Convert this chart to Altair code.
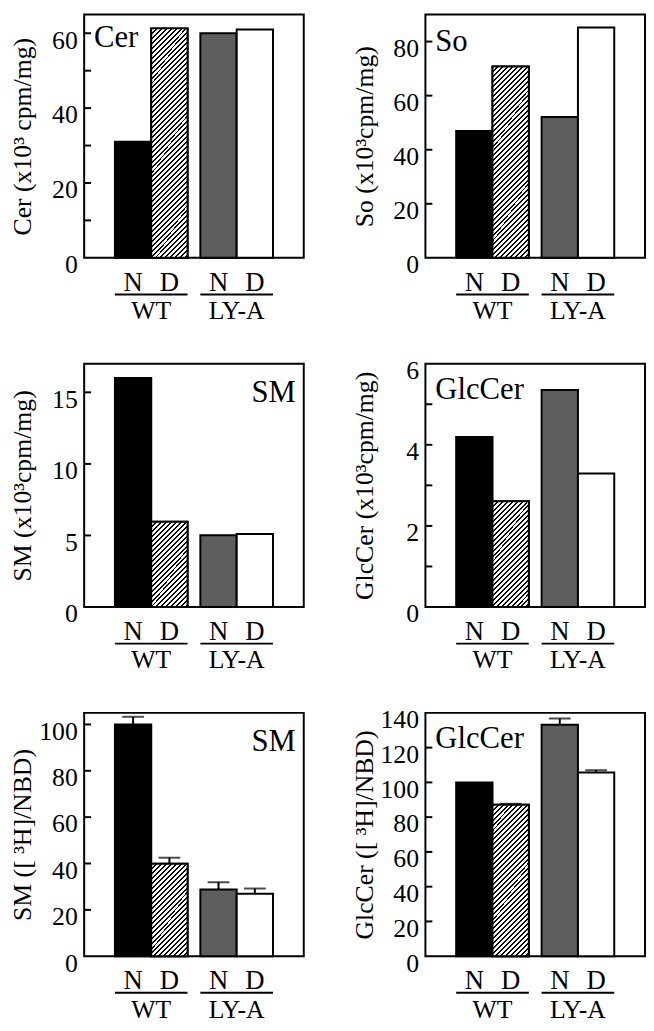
import math
import altair as alt
import pandas as pd

FONT = "Liberation Serif"

# ---------------- data ----------------
groups = ["WT", "WT", "LY-A", "LY-A"]
conds = ["N", "D", "N", "D"]

panel_names = ["Cer", "So", "SM", "GlcCer", "SM", "GlcCer"]
y_titles = [
    "Cer (x10³ cpm/mg)",
    "So (x10³cpm/mg)",
    "SM (x10³cpm/mg)",
    "GlcCer (x10³cpm/mg)",
    "SM ([ ³H]/NBD)",
    "GlcCer ([ ³H]/NBD)",
]
cer_values = [31.0, 61.3, 60.0, 61.0]
so_values = [46.9, 70.8, 52.1, 85.2]
sm_values = [16.0, 5.96, 5.01, 5.10]
glccer_values = [4.19, 2.61, 5.35, 3.29]
sm_ratio_values = [100.0, 39.9, 28.8, 26.9]
sm_ratio_errors = [3.3, 2.6, 3.1, 2.3]
glccer_ratio_values = [100.0, 87.1, 133.1, 105.7]
glccer_ratio_errors = [0.0, 0.6, 3.6, 1.3]

panel_values = [cer_values, so_values, sm_values, glccer_values,
                sm_ratio_values, glccer_ratio_values]
panel_errors = [None, None, None, None, sm_ratio_errors, glccer_ratio_errors]

y_maxes = [65, 90, 17, 6, 105, 140]
label_values = [
    [0, 20, 40, 60],
    [0, 20, 40, 60, 80],
    [0, 5, 10, 15],
    [0, 2, 4, 6],
    [0, 20, 40, 60, 80, 100],
    [0, 20, 40, 60, 80, 100, 120, 140],
]
tick_values = [
    [10, 20, 30, 40, 50, 60],
    [20, 40, 60, 80],
    [5, 10, 15],
    [1, 2, 3, 4, 5],
    [20, 40, 60, 80, 100],
    [20, 40, 60, 80, 100, 120],
]

# ---------------- style ----------------
W, H = 222, 246
BAR_W = 37
name_align = ["left", "left", "right", "left", "right", "left"]
name_y = [24, 28, 30, 27, 30, 27]

keys = [f"{g} {c}" for g, c in zip(groups, conds)]
fill_range = ["black", "white", "#5e5e5e", "white"]

x_scale = alt.Scale(domain=["WT", "LY-A"], paddingInner=0.15, paddingOuter=0.36)
xo_scale = alt.Scale(domain=["N", "D"], paddingInner=0, paddingOuter=0)


def hatch_gradient(h, w=BAR_W, period=5 / math.sqrt(2), line=2 / math.sqrt(2)):
    k = (w + h) * h / (w * w + h * h)
    denom = k * (w * w + h * h)
    dt = math.sqrt(2) * period * h / denom
    lt = math.sqrt(2) * line * h / denom
    stops = []
    n = 0
    while n * dt < 1.0:
        t = n * dt
        a = min(t, 1.0)
        b = min(t + lt, 1.0)
        c = min(t + dt, 1.0)
        stops += [
            alt.GradientStop(offset=round(a, 6), color="black"),
            alt.GradientStop(offset=round(b, 6), color="black"),
            alt.GradientStop(offset=round(b, 6), color="white"),
            alt.GradientStop(offset=round(c, 6), color="white"),
        ]
        n += 1
    return alt.LinearGradient(gradient="linear", stops=stops,
                              x1=0, y1=0, x2=k * w / h, y2=k)


def panel(i):
    vals = panel_values[i]
    errs = panel_errors[i] or [0, 0, 0, 0]
    df = pd.DataFrame({"group": groups, "cond": conds, "key": keys,
                       "value": vals, "err": errs})
    df["err_top"] = df["value"] + df["err"]
    ymax = y_maxes[i]
    y_scale = alt.Scale(domain=[0, ymax], nice=False, zero=True)
    y_axis = alt.Axis(values=label_values[i], title=y_titles[i],
                      ticks=False, domain=False, grid=False,
                      labelFont=FONT, labelFontSize=26, labelColor="black",
                      labelPadding=7, labelOffset=7, labelOverlap=False,
                      titleFont=FONT, titleFontSize=26, titleFontWeight="normal",
                      titleColor="black", titleX=-62, titleBaseline="middle")

    def Y(field):
        return alt.Y(field, scale=y_scale, axis=y_axis, title=y_titles[i])

    x_enc = alt.X("group:N", scale=x_scale, axis=None)
    xo_enc = alt.XOffset("cond:N", scale=xo_scale)

    base = alt.Chart(df)
    bars = base.mark_bar(stroke="black", strokeWidth=2).encode(
        x=x_enc, xOffset=xo_enc, y=Y("value:Q"),
        color=alt.Color("key:N", scale=alt.Scale(domain=keys, range=fill_range), legend=None),
    )
    h_hatch = vals[1] / ymax * H
    hatched = base.transform_filter(alt.datum.key == "WT D").mark_bar(
        stroke="black", strokeWidth=2, fill=hatch_gradient(h_hatch)
    ).encode(x=x_enc, xOffset=xo_enc, y=Y("value:Q"))

    layers = [bars, hatched]

    if panel_errors[i] is not None:
        eb = base.transform_filter(alt.datum.err > 0)
        stem = eb.mark_rule(color="black", strokeWidth=2).encode(
            x=x_enc, xOffset=xo_enc, y=Y("value:Q"), y2="err_top:Q")
        cap = eb.mark_tick(color="black", thickness=2, size=22, orient="horizontal").encode(
            x=x_enc, xOffset=xo_enc, y=Y("err_top:Q"))
        layers += [stem, cap]

    tdf = pd.DataFrame({"t": tick_values[i]})
    ticks = alt.Chart(tdf).mark_rule(color="black", strokeWidth=2).encode(
        x=alt.value(0), x2=alt.value(7), y=Y("t:Q"))
    layers.append(ticks)

    cond_text = base.mark_text(font=FONT, fontSize=27, color="black", baseline="middle").encode(
        x=x_enc, xOffset=xo_enc, y=alt.value(H + 25), text="cond:N")
    gdf = pd.DataFrame({"group": ["WT", "LY-A"]})
    underline = alt.Chart(gdf).mark_bar(color="black").encode(
        x=x_enc, y=alt.value(H + 36), y2=alt.value(H + 38))
    group_text = alt.Chart(gdf).mark_text(font=FONT, fontSize=26, color="black",
                                          baseline="middle").encode(
        x=x_enc, y=alt.value(H + 54), text="group:N")
    layers += [cond_text, underline, group_text]

    ndf = pd.DataFrame({"name": [panel_names[i]]})
    nx = 10 if name_align[i] == "left" else W - 8
    name = alt.Chart(ndf).mark_text(font=FONT, fontSize=31, color="black",
                                    align=name_align[i], baseline="middle").encode(
        x=alt.value(nx), y=alt.value(name_y[i]), text="name:N")
    layers.append(name)

    return alt.layer(*layers).properties(width=W, height=H)


rows = [alt.hconcat(panel(2 * r), panel(2 * r + 1), spacing=45) for r in range(3)]
chart = alt.vconcat(*rows, spacing=32).properties(padding=0).configure(
    font=FONT
).configure_view(
    stroke="black", strokeWidth=2
)

chart.save("out.html", embed_options={"renderer": "svg", "actions": False})
